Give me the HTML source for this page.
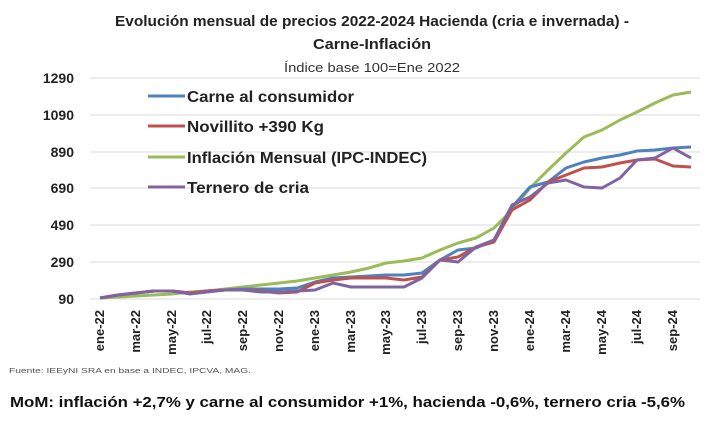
<!DOCTYPE html>
<html><head><meta charset="utf-8"><style>
html,body{margin:0;padding:0;background:#fff;}
svg{display:block;font-family:"Liberation Sans",sans-serif;}
</style></head><body>
<svg width="722" height="438" viewBox="0 0 722 438" xmlns="http://www.w3.org/2000/svg">
<rect width="722" height="438" fill="#fff"/>
<text x="372" y="26" text-anchor="middle" font-size="15" font-weight="bold" fill="#222" textLength="514" lengthAdjust="spacingAndGlyphs">Evolución mensual de precios 2022-2024  Hacienda (cria e invernada) -</text>
<text x="372" y="49" text-anchor="middle" font-size="15" font-weight="bold" fill="#222" textLength="118" lengthAdjust="spacingAndGlyphs">Carne-Inflación</text>
<text x="372" y="72" text-anchor="middle" font-size="13" fill="#333" textLength="176" lengthAdjust="spacingAndGlyphs">Índice base 100=Ene 2022</text>
<g stroke="#d9d9d9" stroke-width="1">
<line x1="90" y1="78" x2="700" y2="78"/><line x1="90" y1="115" x2="700" y2="115"/>
<line x1="90" y1="152" x2="700" y2="152"/><line x1="90" y1="188" x2="700" y2="188"/>
<line x1="90" y1="225" x2="700" y2="225"/><line x1="90" y1="262" x2="700" y2="262"/>
<line x1="90" y1="299" x2="700" y2="299"/>
</g>
<g font-size="14" font-weight="bold" fill="#222" text-anchor="end">
<text x="74" y="83">1290</text><text x="74" y="120">1090</text><text x="74" y="157">890</text>
<text x="74" y="193">690</text><text x="74" y="230">490</text><text x="74" y="267">290</text><text x="74" y="304">90</text>
</g>
<g fill="none" stroke-width="3" stroke-linejoin="round">
<polyline stroke="#9bbb59" points="100,298 118,297 136,296 154,295 172,294 190,292 207,291 225,289 243,287 261,285 279,283 297,281 315,278 333,275 351,272 369,268 386,263 404,261 422,258 440,250 458,243 476,238 494,228 512,210 530,188 548,170 566,153 584,137 602,130 620,120 637,112 655,103 673,95 691,92"/>
<polyline stroke="#4f81bd" points="100,298 118,295 136,293 154,291 172,291 190,293 207,291 225,290 243,289 261,289 279,289 297,288 315,282 333,278 351,277 369,276 386,275 404,275 422,273 440,260 458,250 476,248 494,240 512,207 530,187 548,182 566,168 584,162 602,158 620,155 637,151 655,150 673,148 691,147"/>
<polyline stroke="#c0504d" points="100,298 118,295 136,293 154,291 172,291 190,293 207,291 225,290 243,290 261,291 279,293 297,292 315,283 333,280 351,278 369,278 386,278 404,280 422,277 440,260 458,257 476,247 494,242 512,210 530,200 548,182 566,175 584,168 602,167 620,163 637,160 655,159 673,166 691,167"/>
<polyline stroke="#8064a2" points="100,298 118,295 136,293 154,291 172,291 190,294 207,292 225,290 243,290 261,292 279,292 297,291 315,290 333,283 351,287 369,287 386,287 404,287 422,278 440,260 458,262 476,247 494,240 512,205 530,197 548,183 566,180 584,187 602,188 620,178 637,160 655,158 673,148 691,158"/>
</g>
<g stroke-width="3">
<line x1="148" y1="96" x2="185" y2="96" stroke="#4f81bd"/>
<line x1="148" y1="126" x2="185" y2="126" stroke="#c0504d"/>
<line x1="148" y1="157" x2="185" y2="157" stroke="#9bbb59"/>
<line x1="148" y1="187" x2="185" y2="187" stroke="#8064a2"/>
</g>
<g font-size="16" font-weight="bold" fill="#222">
<text x="187" y="102" textLength="167" lengthAdjust="spacingAndGlyphs">Carne al consumidor</text>
<text x="187" y="132" textLength="137" lengthAdjust="spacingAndGlyphs">Novillito +390 Kg</text>
<text x="187" y="163" textLength="240" lengthAdjust="spacingAndGlyphs">Inflación Mensual (IPC-INDEC)</text>
<text x="187" y="193" textLength="122" lengthAdjust="spacingAndGlyphs">Ternero de cria</text>
</g>
<g font-size="13" font-weight="bold" fill="#222" text-anchor="end">
<text transform="translate(104,310) rotate(-90)">ene-22</text>
<text transform="translate(140,310) rotate(-90)">mar-22</text>
<text transform="translate(176,310) rotate(-90)">may-22</text>
<text transform="translate(211,310) rotate(-90)">jul-22</text>
<text transform="translate(247,310) rotate(-90)">sep-22</text>
<text transform="translate(283,310) rotate(-90)">nov-22</text>
<text transform="translate(319,310) rotate(-90)">ene-23</text>
<text transform="translate(355,310) rotate(-90)">mar-23</text>
<text transform="translate(390,310) rotate(-90)">may-23</text>
<text transform="translate(426,310) rotate(-90)">jul-23</text>
<text transform="translate(462,310) rotate(-90)">sep-23</text>
<text transform="translate(498,310) rotate(-90)">nov-23</text>
<text transform="translate(534,310) rotate(-90)">ene-24</text>
<text transform="translate(570,310) rotate(-90)">mar-24</text>
<text transform="translate(606,310) rotate(-90)">may-24</text>
<text transform="translate(641,310) rotate(-90)">jul-24</text>
<text transform="translate(677,310) rotate(-90)">sep-24</text>
</g>
<text x="9" y="373" font-size="7" fill="#555" textLength="242" lengthAdjust="spacingAndGlyphs">Fuente: IEEyNI SRA en base a INDEC, IPCVA, MAG.</text>
<text x="10" y="407" font-size="15" font-weight="bold" fill="#111" textLength="675" lengthAdjust="spacingAndGlyphs">MoM: inflación +2,7% y carne al consumidor +1%, hacienda -0,6%, ternero cria -5,6%</text>
</svg>
</body></html>
